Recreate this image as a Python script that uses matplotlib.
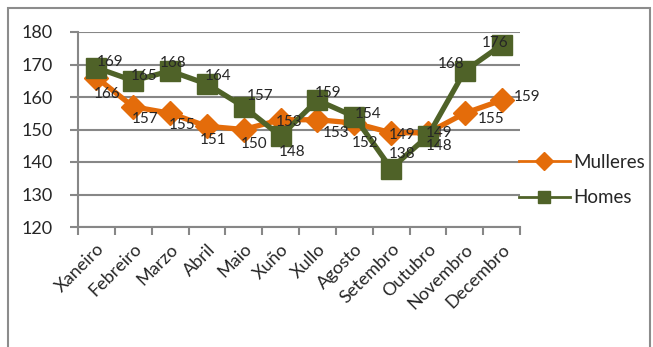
import matplotlib
matplotlib.use("Agg")
import matplotlib.pyplot as plt
from matplotlib.lines import Line2D
from matplotlib.patches import Rectangle

plt.rcParams['font.family'] = ['Lato', 'DejaVu Sans']

# datos
meses = ['Xaneiro', 'Febreiro', 'Marzo', 'Abril', 'Maio', 'Xuño',
         'Xullo', 'Agosto', 'Setembro', 'Outubro', 'Novembro', 'Decembro']
mulleres = [166, 157, 155, 151, 150, 153, 153, 152, 149, 149, 155, 159]
homes = [169, 165, 168, 164, 157, 148, 159, 154, 138, 148, 168, 176]

# desprazamento das etiquetas (px)
off_m = [(11, -17), (12, -12), (12, -12), (6, -14), (10, -15), (9, -2),
         (19, -13), (11, -20), (11, -2), (11, 0), (26, -6), (26, 3)]
off_h = [(14, 6), (11, 5), (3, 8), (11, 8), (16, 11), (12, -16),
         (11, 7), (14, 3), (11, 15), (11, -10), (-14, 7), (-6, 2)]

NARANXA = '#E46C0A'
VERDE = '#4F6228'
GRIS = '#878787'

fig = plt.figure(figsize=(6.53, 3.47), dpi=100)
fig.patches.append(Rectangle((8 / 653, -0.05), 642 / 653, 1.05 - 8 / 347,
                             transform=fig.transFigure, fill=False,
                             edgecolor='#8c8c8c', linewidth=1.5))
ax = fig.add_axes([78 / 653, 1 - 227 / 347, 442 / 653, 195 / 347])

x = range(len(meses))
ax.plot(x, mulleres, color=NARANXA, lw=3.8, marker='D', ms=12, zorder=3)
ax.plot(x, homes, color=VERDE, lw=3.8, marker='s', ms=14, zorder=4)

for i in x:
    ax.annotate(str(mulleres[i]), (i, mulleres[i]),
                xytext=(off_m[i][0] * 0.72, off_m[i][1] * 0.72),
                textcoords='offset points', ha='center', va='center',
                fontsize=11, color='#262626', zorder=6)
    ax.annotate(str(homes[i]), (i, homes[i]),
                xytext=(off_h[i][0] * 0.72, off_h[i][1] * 0.72),
                textcoords='offset points', ha='center', va='center',
                fontsize=11, color='#262626', zorder=6)

ax.set_xlim(-0.5, len(meses) - 0.5)
ax.set_ylim(120, 180)
ax.set_yticks(range(120, 181, 10))
ax.grid(axis='y', color=GRIS, lw=1.5)
ax.set_axisbelow(True)
for s in ['top', 'right']:
    ax.spines[s].set_visible(False)
ax.spines['left'].set_color(GRIS)
ax.spines['bottom'].set_color(GRIS)
ax.spines['left'].set_linewidth(1.5)
ax.spines['bottom'].set_linewidth(1.5)

ax.set_xticks([i - 0.5 for i in range(len(meses) + 1)], minor=False)
ax.set_xticklabels([])
ax.set_xticks(list(x), minor=True)
ax.set_xticklabels(meses, minor=True, rotation=45, ha='right',
                   rotation_mode='anchor', fontsize=13, color='#262626')
ax.tick_params(axis='x', which='minor', length=0, pad=10)
ax.tick_params(axis='x', which='major', length=6, width=1.5, color=GRIS,
               direction='out')
ax.tick_params(axis='y', length=6, width=1.5, color=GRIS, labelsize=13,
               labelcolor='#262626', pad=12, direction='out')

h = [Line2D([], [], color=NARANXA, lw=2, marker='D', ms=9),
     Line2D([], [], color=VERDE, lw=2, marker='s', ms=9)]
fig.legend(h, ['Mulleres', 'Homes'], loc='center left',
           bbox_to_anchor=(502 / 653, 1 - 180 / 347), frameon=False,
           fontsize=13.5, handlelength=2.7, labelspacing=1.0,
           handletextpad=0.2, labelcolor='#262626')

fig.savefig('out.png', dpi=100)
